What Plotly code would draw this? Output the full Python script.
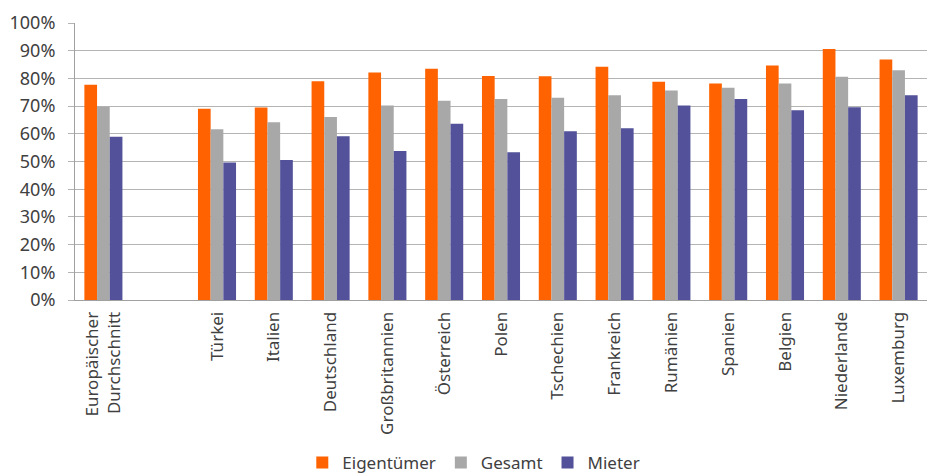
import plotly.graph_objects as go

categories = ["Europäischer<br>Durchschnitt", " ", "Türkei", "Italien", "Deutschland",
              "Großbritannien", "Österreich", "Polen", "Tschechien", "Frankreich",
              "Rumänien", "Spanien", "Belgien", "Niederlande", "Luxemburg"]
eigentuemer = [77.7, None, 69.0, 69.5, 79.0, 82.1, 83.5, 80.9, 80.8, 84.2, 78.8, 78.2, 84.7, 90.6, 86.8]
gesamt = [69.8, None, 61.6, 64.2, 66.1, 70.2, 71.9, 72.6, 73.0, 73.9, 75.6, 76.6, 78.2, 80.6, 82.9]
mieter = [58.9, None, 49.6, 50.5, 59.1, 53.8, 63.6, 53.3, 60.9, 62.0, 70.2, 72.6, 68.5, 69.6, 73.9]
y_ticks = [0, 10, 20, 30, 40, 50, 60, 70, 80, 90, 100]

series = [("Eigentümer", eigentuemer, "#FF6200"),
          ("Gesamt", gesamt, "#A8A8A8"),
          ("Mieter", mieter, "#525199")]

fig = go.Figure()
for name, vals, col in series:
    fig.add_trace(go.Bar(x=categories, y=[v / 100 if v is not None else None for v in vals],
                         name=name, marker=dict(color=col, line=dict(width=0))))

font_fam = "Noto Sans, Open Sans, sans-serif"
fig.update_layout(
    width=929, height=473,
    margin=dict(l=75, r=2, t=23, b=173),
    barmode="group", bargap=0.33, bargroupgap=0,
    plot_bgcolor="white", paper_bgcolor="white",
    font=dict(family=font_fam, size=17, color="#404040"),
    showlegend=True,
    legend=dict(orientation="h", x=0.51, xanchor="center", xref="container",
                y=0.021, yanchor="middle", yref="container",
                font=dict(size=17, color="#404040"), itemwidth=30,
                traceorder="normal"),
    xaxis=dict(type="category", tickangle=-90, showgrid=False,
               showline=True, linecolor="#a0a0a0", linewidth=1, ticks="",
               ticklabelstandoff=4,
               tickfont=dict(size=17, color="#404040")),
    yaxis=dict(range=[0, 1.0], tickvals=[t / 100 for t in y_ticks],
               ticktext=[f"{t}%" for t in y_ticks],
               showgrid=True, gridcolor="#b4b4b4", gridwidth=1,
               showline=True, linecolor="#a0a0a0", linewidth=1,
               ticks="outside", ticklen=6, tickcolor="#b4b4b4",
               ticklabelstandoff=9,
               zeroline=False, tickfont=dict(size=18, color="#404040")),
)
fig.write_html("out.html")
